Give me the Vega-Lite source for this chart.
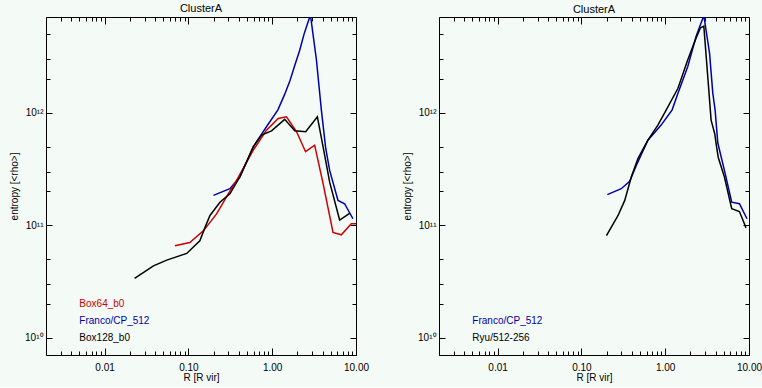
{
  "$schema": "https://vega.github.io/schema/vega-lite/v6.json",
  "background": "#f4faf6",
  "padding": {"left": 9, "top": 2, "right": 6, "bottom": 4},
  "spacing": 32,
  "datasets": {
    "curves": [
      {"panel": "L", "series": "Franco/CP_512", "r": 0.199, "s": 1.84e11},
      {"panel": "L", "series": "Franco/CP_512", "r": 0.313, "s": 2.11e11},
      {"panel": "L", "series": "Franco/CP_512", "r": 0.411, "s": 2.68e11},
      {"panel": "L", "series": "Franco/CP_512", "r": 0.594, "s": 4.97e11},
      {"panel": "L", "series": "Franco/CP_512", "r": 0.855, "s": 7.5e11},
      {"panel": "L", "series": "Franco/CP_512", "r": 1.17, "s": 1.06e12},
      {"panel": "L", "series": "Franco/CP_512", "r": 1.4, "s": 1.44e12},
      {"panel": "L", "series": "Franco/CP_512", "r": 1.62, "s": 1.9e12},
      {"panel": "L", "series": "Franco/CP_512", "r": 1.85, "s": 2.6e12},
      {"panel": "L", "series": "Franco/CP_512", "r": 2.13, "s": 3.6e12},
      {"panel": "L", "series": "Franco/CP_512", "r": 2.4, "s": 5.0e12},
      {"panel": "L", "series": "Franco/CP_512", "r": 2.6, "s": 6.0e12},
      {"panel": "L", "series": "Franco/CP_512", "r": 2.86, "s": 7.4e12},
      {"panel": "L", "series": "Franco/CP_512", "r": 3.37, "s": 2.96e12},
      {"panel": "L", "series": "Franco/CP_512", "r": 3.86, "s": 1.06e12},
      {"panel": "L", "series": "Franco/CP_512", "r": 4.35, "s": 4.83e11},
      {"panel": "L", "series": "Franco/CP_512", "r": 4.85, "s": 3.07e11},
      {"panel": "L", "series": "Franco/CP_512", "r": 6.1, "s": 1.66e11},
      {"panel": "L", "series": "Franco/CP_512", "r": 7.31, "s": 1.55e11},
      {"panel": "L", "series": "Franco/CP_512", "r": 9.2, "s": 1.14e11},

      {"panel": "L", "series": "Box64_b0", "r": 0.069, "s": 6.56e10},
      {"panel": "L", "series": "Box64_b0", "r": 0.104, "s": 7.0e10},
      {"panel": "L", "series": "Box64_b0", "r": 0.151, "s": 8.9e10},
      {"panel": "L", "series": "Box64_b0", "r": 0.217, "s": 1.26e11},
      {"panel": "L", "series": "Box64_b0", "r": 0.299, "s": 1.9e11},
      {"panel": "L", "series": "Box64_b0", "r": 0.376, "s": 2.5e11},
      {"panel": "L", "series": "Box64_b0", "r": 0.594, "s": 4.64e11},
      {"panel": "L", "series": "Box64_b0", "r": 0.855, "s": 7.0e11},
      {"panel": "L", "series": "Box64_b0", "r": 1.18, "s": 8.9e11},
      {"panel": "L", "series": "Box64_b0", "r": 1.48, "s": 9.2e11},
      {"panel": "L", "series": "Box64_b0", "r": 1.95, "s": 6.8e11},
      {"panel": "L", "series": "Box64_b0", "r": 2.5, "s": 4.5e11},
      {"panel": "L", "series": "Box64_b0", "r": 3.21, "s": 5.14e11},
      {"panel": "L", "series": "Box64_b0", "r": 4.05, "s": 2.34e11},
      {"panel": "L", "series": "Box64_b0", "r": 5.32, "s": 8.6e10},
      {"panel": "L", "series": "Box64_b0", "r": 6.68, "s": 8.2e10},
      {"panel": "L", "series": "Box64_b0", "r": 8.79, "s": 1.03e11},
      {"panel": "L", "series": "Box64_b0", "r": 10, "s": 1.03e11},

      {"panel": "L", "series": "Box128_b0", "r": 0.0228, "s": 3.37e10},
      {"panel": "L", "series": "Box128_b0", "r": 0.0383, "s": 4.34e10},
      {"panel": "L", "series": "Box128_b0", "r": 0.0552, "s": 4.89e10},
      {"panel": "L", "series": "Box128_b0", "r": 0.0955, "s": 5.6e10},
      {"panel": "L", "series": "Box128_b0", "r": 0.137, "s": 7.27e10},
      {"panel": "L", "series": "Box128_b0", "r": 0.158, "s": 9.55e10},
      {"panel": "L", "series": "Box128_b0", "r": 0.181, "s": 1.22e11},
      {"panel": "L", "series": "Box128_b0", "r": 0.238, "s": 1.6e11},
      {"panel": "L", "series": "Box128_b0", "r": 0.313, "s": 1.9e11},
      {"panel": "L", "series": "Box128_b0", "r": 0.411, "s": 2.68e11},
      {"panel": "L", "series": "Box128_b0", "r": 0.594, "s": 4.97e11},
      {"panel": "L", "series": "Box128_b0", "r": 0.746, "s": 6.32e11},
      {"panel": "L", "series": "Box128_b0", "r": 0.982, "s": 6.9e11},
      {"panel": "L", "series": "Box128_b0", "r": 1.41, "s": 8.73e11},
      {"panel": "L", "series": "Box128_b0", "r": 1.86, "s": 6.9e11},
      {"panel": "L", "series": "Box128_b0", "r": 2.51, "s": 6.76e11},
      {"panel": "L", "series": "Box128_b0", "r": 3.46, "s": 9.2e11},
      {"panel": "L", "series": "Box128_b0", "r": 4.05, "s": 4.97e11},
      {"panel": "L", "series": "Box128_b0", "r": 4.85, "s": 2.41e11},
      {"panel": "L", "series": "Box128_b0", "r": 6.38, "s": 1.11e11},
      {"panel": "L", "series": "Box128_b0", "r": 8.39, "s": 1.27e11},

      {"panel": "R", "series": "Franco/CP_512", "r": 0.204, "s": 1.87e11},
      {"panel": "R", "series": "Franco/CP_512", "r": 0.299, "s": 2.11e11},
      {"panel": "R", "series": "Franco/CP_512", "r": 0.377, "s": 2.46e11},
      {"panel": "R", "series": "Franco/CP_512", "r": 0.452, "s": 3.4e11},
      {"panel": "R", "series": "Franco/CP_512", "r": 0.622, "s": 5.7e11},
      {"panel": "R", "series": "Franco/CP_512", "r": 0.895, "s": 7.76e11},
      {"panel": "R", "series": "Franco/CP_512", "r": 1.21, "s": 1.06e12},
      {"panel": "R", "series": "Franco/CP_512", "r": 1.42, "s": 1.49e12},
      {"panel": "R", "series": "Franco/CP_512", "r": 1.86, "s": 2.58e12},
      {"panel": "R", "series": "Franco/CP_512", "r": 2.34, "s": 4.78e12},
      {"panel": "R", "series": "Franco/CP_512", "r": 2.89, "s": 7.3e12},
      {"panel": "R", "series": "Franco/CP_512", "r": 3.38, "s": 3.4e12},
      {"panel": "R", "series": "Franco/CP_512", "r": 3.7, "s": 1.49e12},
      {"panel": "R", "series": "Franco/CP_512", "r": 3.94, "s": 1.06e12},
      {"panel": "R", "series": "Franco/CP_512", "r": 4.24, "s": 5.4e11},
      {"panel": "R", "series": "Franco/CP_512", "r": 5.09, "s": 3.07e11},
      {"panel": "R", "series": "Franco/CP_512", "r": 6.22, "s": 1.6e11},
      {"panel": "R", "series": "Franco/CP_512", "r": 7.69, "s": 1.55e11},
      {"panel": "R", "series": "Franco/CP_512", "r": 9.46, "s": 1.14e11},

      {"panel": "R", "series": "Ryu/512-256", "r": 0.199, "s": 8.05e10},
      {"panel": "R", "series": "Ryu/512-256", "r": 0.274, "s": 1.22e11},
      {"panel": "R", "series": "Ryu/512-256", "r": 0.329, "s": 1.66e11},
      {"panel": "R", "series": "Ryu/512-256", "r": 0.394, "s": 2.68e11},
      {"panel": "R", "series": "Ryu/512-256", "r": 0.473, "s": 3.91e11},
      {"panel": "R", "series": "Ryu/512-256", "r": 0.622, "s": 5.7e11},
      {"panel": "R", "series": "Ryu/512-256", "r": 0.818, "s": 7.76e11},
      {"panel": "R", "series": "Ryu/512-256", "r": 1.03, "s": 1.06e12},
      {"panel": "R", "series": "Ryu/512-256", "r": 1.42, "s": 1.65e12},
      {"panel": "R", "series": "Ryu/512-256", "r": 1.86, "s": 2.96e12},
      {"panel": "R", "series": "Ryu/512-256", "r": 2.34, "s": 4.63e12},
      {"panel": "R", "series": "Ryu/512-256", "r": 2.64, "s": 5.69e12},
      {"panel": "R", "series": "Ryu/512-256", "r": 2.89, "s": 5.88e12},
      {"panel": "R", "series": "Ryu/512-256", "r": 3.22, "s": 2.1e12},
      {"panel": "R", "series": "Ryu/512-256", "r": 3.53, "s": 8.6e11},
      {"panel": "R", "series": "Ryu/512-256", "r": 3.9, "s": 6.5e11},
      {"panel": "R", "series": "Ryu/512-256", "r": 4.1, "s": 5.0e11},
      {"panel": "R", "series": "Ryu/512-256", "r": 4.3, "s": 4.0e11},
      {"panel": "R", "series": "Ryu/512-256", "r": 5.09, "s": 2.68e11},
      {"panel": "R", "series": "Ryu/512-256", "r": 6.22, "s": 1.4e11},
      {"panel": "R", "series": "Ryu/512-256", "r": 7.69, "s": 1.32e11},
      {"panel": "R", "series": "Ryu/512-256", "r": 8.81, "s": 1.03e11},
      {"panel": "R", "series": "Ryu/512-256", "r": 9.2, "s": 9.44e10}
    ],
    "labels": [
      {"panel": "L", "series": "Box64_b0", "r": 0.005, "s": 2.0e10},
      {"panel": "L", "series": "Franco/CP_512", "r": 0.005, "s": 1.4e10},
      {"panel": "L", "series": "Box128_b0", "r": 0.005, "s": 1.0e10},
      {"panel": "R", "series": "Franco/CP_512", "r": 0.005, "s": 1.4e10},
      {"panel": "R", "series": "Ryu/512-256", "r": 0.005, "s": 1.0e10}
    ]
  },
  "config": {
    "font": "Liberation Sans",
    "view": {"stroke": "#000000", "strokeWidth": 1},
    "axis": {
      "grid": false,
      "domain": false,
      "zindex": 1,
      "tickColor": "#000000",
      "tickWidth": 1,
      "labelColor": "#000000",
      "titleColor": "#000000",
      "labelFontSize": 10,
      "titleFontSize": 10,
      "titleFontWeight": "normal",
      "labelOverlap": false,
      "labelFlush": false,
      "labelBound": false
    },
    "title": {"fontSize": 11, "fontWeight": "normal", "color": "#000000", "offset": 1, "anchor": "middle"}
  },
  "hconcat": [
    {
      "width": 310, "height": 338,
      "title": "ClusterA",
      "layer": [
        {
          "data": {"name": "curves"},
          "transform": [{"filter": "datum.panel == 'L'"}],
          "mark": {"type": "line", "strokeWidth": 1.5, "clip": true},
          "encoding": {
            "x": {"field": "r", "type": "quantitative", "title": "R [R vir]",
              "scale": {"type": "log", "domain": [0.002, 10], "nice": false},
              "axis": {"orient": "bottom", "values": [0.01, 0.1, 1, 10], "format": ".2f",
                "tickSize": 7, "offset": -7, "labelPadding": 7, "titlePadding": 0}},
            "y": {"field": "s", "type": "quantitative", "title": "entropy [<rho>]",
              "scale": {"type": "log", "domain": [7e9, 7.1e12], "nice": false},
              "axis": {"orient": "left", "values": [1e10, 1e11, 1e12],
                "tickSize": 6, "offset": -6, "labelPadding": 3, "titlePadding": 5,
                "labelExpr": "datum.value == 1e10 ? '10¹⁰' : datum.value == 1e11 ? '10¹¹' : '10¹²'"}},
            "color": {"field": "series", "type": "nominal", "legend": null,
              "scale": {"domain": ["Box64_b0", "Franco/CP_512", "Box128_b0", "Ryu/512-256"], "range": ["#cc0000", "#0000aa", "#000000", "#000000"]}}
          }
        },
        {
          "data": {"name": "labels"},
          "transform": [{"filter": "datum.panel == 'L'"}],
          "mark": {"type": "text", "align": "left", "baseline": "middle", "fontSize": 10},
          "encoding": {
            "x": {"field": "r", "type": "quantitative", "title": null,
              "scale": {"type": "log", "domain": [0.002, 10], "nice": false},
              "axis": {"orient": "top", "labels": false, "values": [0.01, 0.1, 1, 10], "tickSize": 7, "offset": -7}},
            "y": {"field": "s", "type": "quantitative", "title": null,
              "scale": {"type": "log", "domain": [7e9, 7.1e12], "nice": false},
              "axis": {"orient": "right", "labels": false, "values": [1e10, 1e11, 1e12], "tickSize": 6, "offset": -6}},
            "text": {"field": "series"},
            "color": {"field": "series", "type": "nominal", "legend": null}
          }
        },
        {
          "data": {"name": "curves"},
          "transform": [{"filter": "datum.panel == 'L'"}],
          "mark": {"type": "line", "strokeOpacity": 0},
          "encoding": {
            "x": {"field": "r", "type": "quantitative", "title": null,
              "scale": {"type": "log", "domain": [0.002, 10], "nice": false},
              "axis": {"orient": "bottom", "labels": false, "tickSize": 4, "offset": -4,
                "values": [0.002,0.003,0.004,0.005,0.006,0.007,0.008,0.009,0.02,0.03,0.04,0.05,0.06,0.07,0.08,0.09,0.2,0.3,0.4,0.5,0.6,0.7,0.8,0.9,2,3,4,5,6,7,8,9]}},
            "y": {"field": "s", "type": "quantitative", "title": null,
              "scale": {"type": "log", "domain": [7e9, 7.1e12], "nice": false},
              "axis": {"orient": "left", "labels": false, "tickSize": 4, "offset": -4,
                "values": [2e10, 3e10, 5e10, 2e11, 3e11, 5e11, 2e12, 3e12, 5e12]}},
            "detail": {"field": "series"}
          }
        },
        {
          "data": {"name": "curves"},
          "transform": [{"filter": "datum.panel == 'L'"}],
          "mark": {"type": "line", "strokeOpacity": 0},
          "encoding": {
            "x": {"field": "r", "type": "quantitative", "title": null,
              "scale": {"type": "log", "domain": [0.002, 10], "nice": false},
              "axis": {"orient": "top", "labels": false, "tickSize": 4, "offset": -4,
                "values": [0.002,0.003,0.004,0.005,0.006,0.007,0.008,0.009,0.02,0.03,0.04,0.05,0.06,0.07,0.08,0.09,0.2,0.3,0.4,0.5,0.6,0.7,0.8,0.9,2,3,4,5,6,7,8,9]}},
            "y": {"field": "s", "type": "quantitative", "title": null,
              "scale": {"type": "log", "domain": [7e9, 7.1e12], "nice": false},
              "axis": {"orient": "right", "labels": false, "tickSize": 4, "offset": -4,
                "values": [2e10, 3e10, 5e10, 2e11, 3e11, 5e11, 2e12, 3e12, 5e12]}},
            "detail": {"field": "series"}
          }
        }
      ],
      "resolve": {"scale": {"x": "independent", "y": "independent"}}
    },
    {
      "width": 310, "height": 338,
      "title": "ClusterA",
      "layer": [
        {
          "data": {"name": "curves"},
          "transform": [{"filter": "datum.panel == 'R'"}],
          "mark": {"type": "line", "strokeWidth": 1.5, "clip": true},
          "encoding": {
            "x": {"field": "r", "type": "quantitative", "title": "R [R vir]",
              "scale": {"type": "log", "domain": [0.002, 10], "nice": false},
              "axis": {"orient": "bottom", "values": [0.01, 0.1, 1, 10], "format": ".2f",
                "tickSize": 7, "offset": -7, "labelPadding": 7, "titlePadding": 0}},
            "y": {"field": "s", "type": "quantitative", "title": "entropy [<rho>]",
              "scale": {"type": "log", "domain": [7e9, 7.1e12], "nice": false},
              "axis": {"orient": "left", "values": [1e10, 1e11, 1e12],
                "tickSize": 6, "offset": -6, "labelPadding": 3, "titlePadding": 5,
                "labelExpr": "datum.value == 1e10 ? '10¹⁰' : datum.value == 1e11 ? '10¹¹' : '10¹²'"}},
            "color": {"field": "series", "type": "nominal", "legend": null,
              "scale": {"domain": ["Box64_b0", "Franco/CP_512", "Box128_b0", "Ryu/512-256"], "range": ["#cc0000", "#0000aa", "#000000", "#000000"]}}
          }
        },
        {
          "data": {"name": "labels"},
          "transform": [{"filter": "datum.panel == 'R'"}],
          "mark": {"type": "text", "align": "left", "baseline": "middle", "fontSize": 10},
          "encoding": {
            "x": {"field": "r", "type": "quantitative", "title": null,
              "scale": {"type": "log", "domain": [0.002, 10], "nice": false},
              "axis": {"orient": "top", "labels": false, "values": [0.01, 0.1, 1, 10], "tickSize": 7, "offset": -7}},
            "y": {"field": "s", "type": "quantitative", "title": null,
              "scale": {"type": "log", "domain": [7e9, 7.1e12], "nice": false},
              "axis": {"orient": "right", "labels": false, "values": [1e10, 1e11, 1e12], "tickSize": 6, "offset": -6}},
            "text": {"field": "series"},
            "color": {"field": "series", "type": "nominal", "legend": null}
          }
        },
        {
          "data": {"name": "curves"},
          "transform": [{"filter": "datum.panel == 'R'"}],
          "mark": {"type": "line", "strokeOpacity": 0},
          "encoding": {
            "x": {"field": "r", "type": "quantitative", "title": null,
              "scale": {"type": "log", "domain": [0.002, 10], "nice": false},
              "axis": {"orient": "bottom", "labels": false, "tickSize": 4, "offset": -4,
                "values": [0.002,0.003,0.004,0.005,0.006,0.007,0.008,0.009,0.02,0.03,0.04,0.05,0.06,0.07,0.08,0.09,0.2,0.3,0.4,0.5,0.6,0.7,0.8,0.9,2,3,4,5,6,7,8,9]}},
            "y": {"field": "s", "type": "quantitative", "title": null,
              "scale": {"type": "log", "domain": [7e9, 7.1e12], "nice": false},
              "axis": {"orient": "left", "labels": false, "tickSize": 4, "offset": -4,
                "values": [2e10, 3e10, 5e10, 2e11, 3e11, 5e11, 2e12, 3e12, 5e12]}},
            "detail": {"field": "series"}
          }
        },
        {
          "data": {"name": "curves"},
          "transform": [{"filter": "datum.panel == 'R'"}],
          "mark": {"type": "line", "strokeOpacity": 0},
          "encoding": {
            "x": {"field": "r", "type": "quantitative", "title": null,
              "scale": {"type": "log", "domain": [0.002, 10], "nice": false},
              "axis": {"orient": "top", "labels": false, "tickSize": 4, "offset": -4,
                "values": [0.002,0.003,0.004,0.005,0.006,0.007,0.008,0.009,0.02,0.03,0.04,0.05,0.06,0.07,0.08,0.09,0.2,0.3,0.4,0.5,0.6,0.7,0.8,0.9,2,3,4,5,6,7,8,9]}},
            "y": {"field": "s", "type": "quantitative", "title": null,
              "scale": {"type": "log", "domain": [7e9, 7.1e12], "nice": false},
              "axis": {"orient": "right", "labels": false, "tickSize": 4, "offset": -4,
                "values": [2e10, 3e10, 5e10, 2e11, 3e11, 5e11, 2e12, 3e12, 5e12]}},
            "detail": {"field": "series"}
          }
        }
      ],
      "resolve": {"scale": {"x": "independent", "y": "independent"}}
    }
  ]
}
